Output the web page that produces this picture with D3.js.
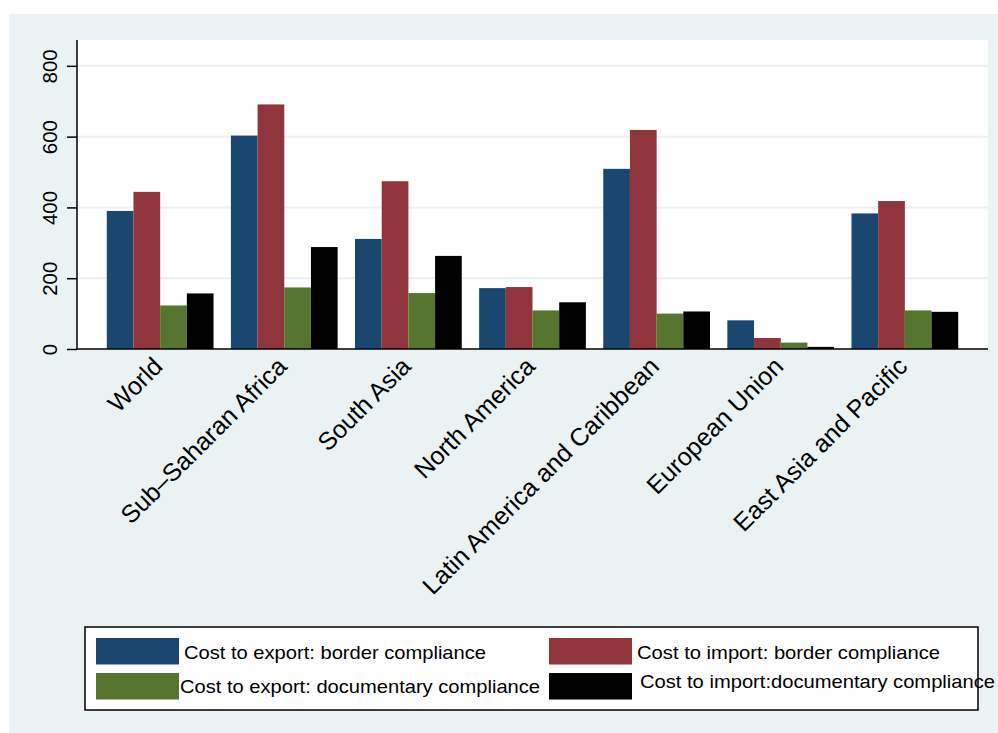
<!DOCTYPE html>
<html>
<head>
<meta charset="utf-8">
<script src="https://cdn.jsdelivr.net/npm/d3@7"></script>
<style>
  html, body { margin: 0; padding: 0; background: #ffffff; }
  svg { display: block; font-family: "Liberation Sans", Arial, Helvetica, sans-serif; }
</style>
</head>
<body>
<svg id="chart" width="998" height="733"></svg>
<script>
const categories = ["World", "Sub\u2013Saharan Africa", "South Asia", "North America",
  "Latin America and Caribbean", "European Union", "East Asia and Pacific"];
const seriesNames = ["Cost to export: border compliance", "Cost to import: border compliance",
  "Cost to export: documentary compliance", "Cost to import:documentary compliance"];
const exportBorder = [390, 603, 311, 172, 509, 81, 383];
const importBorder = [444, 691, 474, 175, 619, 31, 418];
const exportDoc    = [123, 174, 158, 109, 100, 18, 109];
const importDoc    = [157, 288, 263, 132, 106, 6, 105];
const yTicks = [0, 200, 400, 600, 800];
const colors = ["#1a476f", "#90353b", "#55752f", "#000000"];

const series = [exportBorder, importBorder, exportDoc, importDoc];

const svg = d3.select("#chart");
const W = 998, H = 733;
const plot = { left: 77, right: 988, top: 40, bottom: 349 };

// outer background
svg.append("rect").attr("x", 9).attr("y", 14).attr("width", W - 9).attr("height", H - 14)
  .attr("fill", "#eaf2f3");
// plot area
svg.append("rect").attr("x", plot.left).attr("y", plot.top)
  .attr("width", plot.right - plot.left).attr("height", plot.bottom - plot.top)
  .attr("fill", "#ffffff");

const y = d3.scaleLinear().domain([0, 873]).range([plot.bottom, plot.top]);
const x0 = d3.scaleBand().domain(categories).range([plot.left, plot.right])
  .paddingInner(0.14).paddingOuter(0.24);
const x1 = d3.scaleBand().domain(d3.range(series.length)).range([0, x0.bandwidth()]).padding(0);

// gridlines
svg.append("g").selectAll("line").data(yTicks.filter(t => t > 0)).join("line")
  .attr("x1", plot.left).attr("x2", plot.right)
  .attr("y1", d => y(d)).attr("y2", d => y(d))
  .attr("stroke", "#eaf2f3").attr("stroke-width", 2);

// bars
const groups = svg.append("g").selectAll("g").data(categories).join("g")
  .attr("transform", d => `translate(${x0(d)},0)`);
groups.selectAll("rect").data((c, i) => series.map((s, k) => ({ k, v: s[i] }))).join("rect")
  .attr("x", d => x1(d.k)).attr("width", x1.bandwidth())
  .attr("y", d => y(d.v)).attr("height", d => y(0) - y(d.v))
  .attr("fill", d => colors[d.k]);

// y axis
const yAxis = d3.axisLeft(y).tickValues(yTicks).tickSize(10).tickPadding(0).tickFormat(d3.format("d"));
const gy = svg.append("g").attr("transform", `translate(${plot.left},0)`).call(yAxis);
gy.select(".domain").attr("d", `M0,${plot.top}V${plot.bottom}`).attr("stroke", "#000").attr("stroke-width", 1.5);
gy.selectAll(".tick line").attr("stroke", "#000").attr("stroke-width", 1.5);
gy.selectAll(".tick text")
  .attr("x", null).attr("dy", null)
  .attr("transform", "translate(-20,0) rotate(-90)")
  .attr("text-anchor", "middle")
  .attr("font-size", 20.5).attr("fill", "#000")
  .style("font-family", "'Liberation Sans', Arial, sans-serif");

// x axis baseline
svg.append("line").attr("x1", plot.left).attr("x2", plot.right)
  .attr("y1", plot.bottom).attr("y2", plot.bottom)
  .attr("stroke", "#000").attr("stroke-width", 1.5);

// x labels
const xAxis = d3.axisBottom(x0).tickSize(0).tickPadding(0);
const gx = svg.append("g").attr("transform", `translate(0,${plot.bottom})`).call(xAxis);
gx.select(".domain").remove();
gx.selectAll(".tick text")
  .attr("y", null).attr("dy", null)
  .attr("transform", "translate(-9,6) rotate(-45)")
  .attr("text-anchor", "end")
  .attr("dominant-baseline", "hanging")
  .attr("font-size", 25).attr("fill", "#000")
  .style("font-family", "'Liberation Sans', Arial, sans-serif");

// legend
const lg = svg.append("g");
lg.append("rect").attr("x", 85).attr("y", 627).attr("width", 893).attr("height", 83)
  .attr("fill", "#ffffff").attr("stroke", "#000").attr("stroke-width", 1.5);
const legendPos = [
  { sx: 96, sy: 638, tx: 184, ty: 659 },
  { sx: 549, sy: 638, tx: 637, ty: 659 },
  { sx: 96, sy: 673, tx: 180, ty: 693 },
  { sx: 549, sy: 673, tx: 640, ty: 688 }
];
const textLens = [302, 303, 360, 355];
seriesNames.forEach((name, k) => {
  const p = legendPos[k];
  lg.append("rect").attr("x", p.sx).attr("y", p.sy).attr("width", 83).attr("height", 26.5)
    .attr("fill", colors[k]);
  lg.append("text").attr("x", p.tx).attr("y", p.ty).text(name)
    .attr("font-size", 18.5).attr("fill", "#000")
    .attr("textLength", textLens[k]).attr("lengthAdjust", "spacingAndGlyphs");
});
</script>
</body>
</html>
